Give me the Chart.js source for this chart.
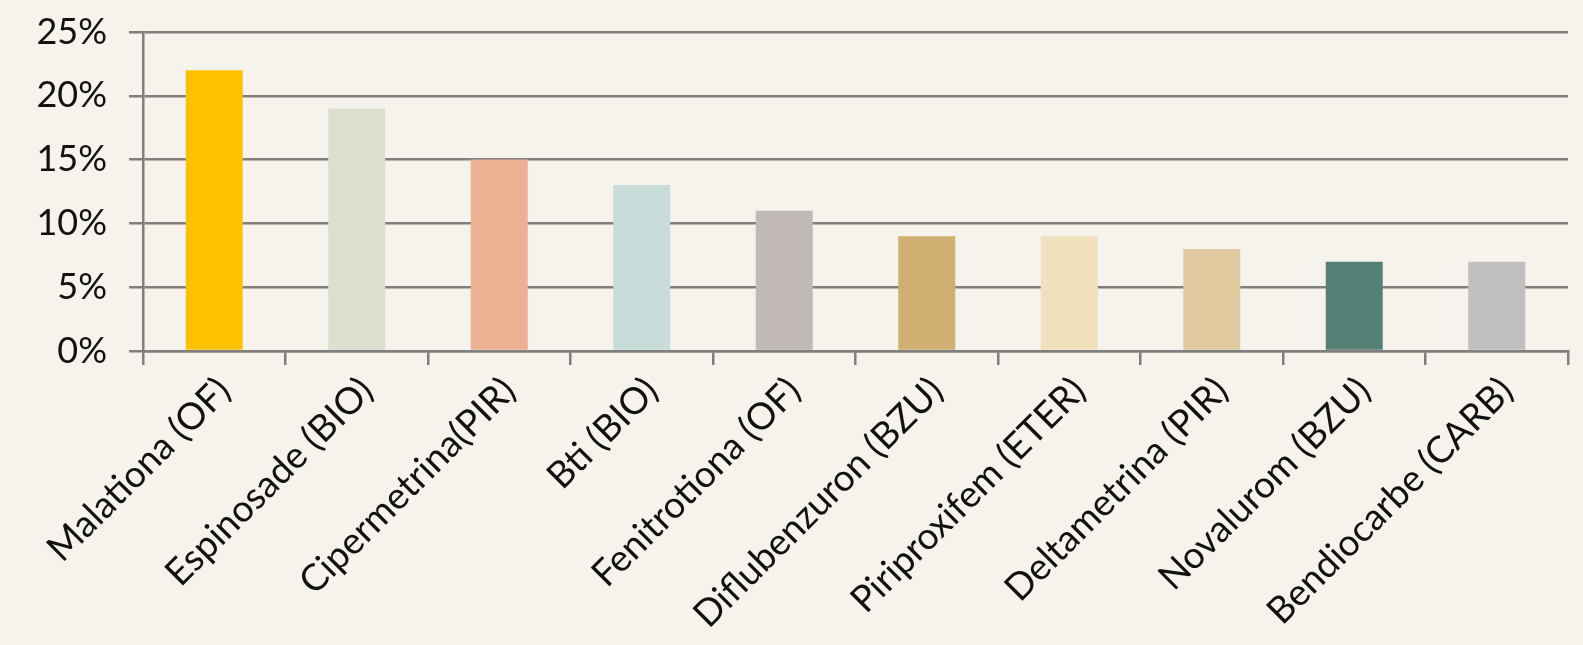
<!DOCTYPE html>
<html>
<head>
<meta charset="utf-8">
<script src="https://cdn.jsdelivr.net/npm/chart.js@4"></script>
<style>
  html, body { margin: 0; padding: 0; background: #f6f2ec; }
  #wrap { width: 1583px; height: 645px; }
</style>
</head>
<body>
<div id="wrap"><canvas id="my-chart" width="1583" height="645"></canvas></div>
<script>
const labels = ["Malationa (OF)", "Espinosade (BIO)", "Cipermetrina(PIR)", "Bti (BIO)", "Fenitrotiona (OF)",
  "Diflubenzuron (BZU)", "Piriproxifem (ETER)", "Deltametrina (PIR)", "Novalurom (BZU)", "Bendiocarbe (CARB)"];
const values = [22, 19, 15, 13, 11, 9, 9, 8, 7, 7];
const colors = ["#ffc000", "#dcdfcd", "#ebb192", "#c8ddd9", "#c0b9b8",
  "#cfaf72", "#f0e0bd", "#e2caa0", "#568076", "#bfbfbf"];
const yTicks = [0, 5, 10, 15, 20, 25];

const gridColor = "#7f7f7f";
const yFont = { family: "Lato, 'Noto Sans', sans-serif", size: 36 };
const xFont = { family: "Lato, 'Noto Sans', sans-serif", size: 37 };

// paint page background on canvas
const bgPlugin = {
  id: "bg",
  beforeDraw(chart) {
    const c = chart.ctx;
    c.save();
    c.fillStyle = "#f6f2ec";
    c.fillRect(0, 0, chart.width, chart.height);
    c.restore();
  }
};

const ctx = document.getElementById("my-chart").getContext("2d");
const myChart = new Chart(ctx, {
  type: "bar",
  data: {
    labels: labels,
    datasets: [{
      data: values,
      backgroundColor: colors,
      barPercentage: 0.4,
      categoryPercentage: 1
    }]
  },
  plugins: [bgPlugin],
  options: {
    responsive: false,
    animation: false,
    layout: { padding: { top: 32, right: 15, left: 0, bottom: 0 } },
    plugins: { legend: { display: false }, tooltip: { enabled: false } },
    scales: {
      x: {
        offset: true,
        grid: { offset: true, drawOnChartArea: false, drawTicks: true, tickLength: 14, color: gridColor, lineWidth: 2.5 },
        border: { display: true, color: gridColor, width: 2.5 },
        ticks: { color: "#111", font: xFont, minRotation: 45, maxRotation: 45, padding: 4, labelOffset: 10, autoSkip: false },
        afterFit: (s) => { s.height = 294; s.paddingTop = 0; s.paddingBottom = 0; }
      },
      y: {
        min: 0,
        max: 25,
        afterBuildTicks: (s) => { s.ticks = yTicks.map(v => ({ value: v })); },
        grid: { color: gridColor, lineWidth: 2.5, tickLength: 14 },
        border: { display: true, color: gridColor, width: 2.5 },
        ticks: { color: "#111", font: yFont, padding: 22, callback: (v) => v + "%" },
        afterFit: (s) => { s.width = 143; s.paddingTop = 0; s.paddingBottom = 0; }
      }
    }
  }
});
</script>
</body>
</html>
